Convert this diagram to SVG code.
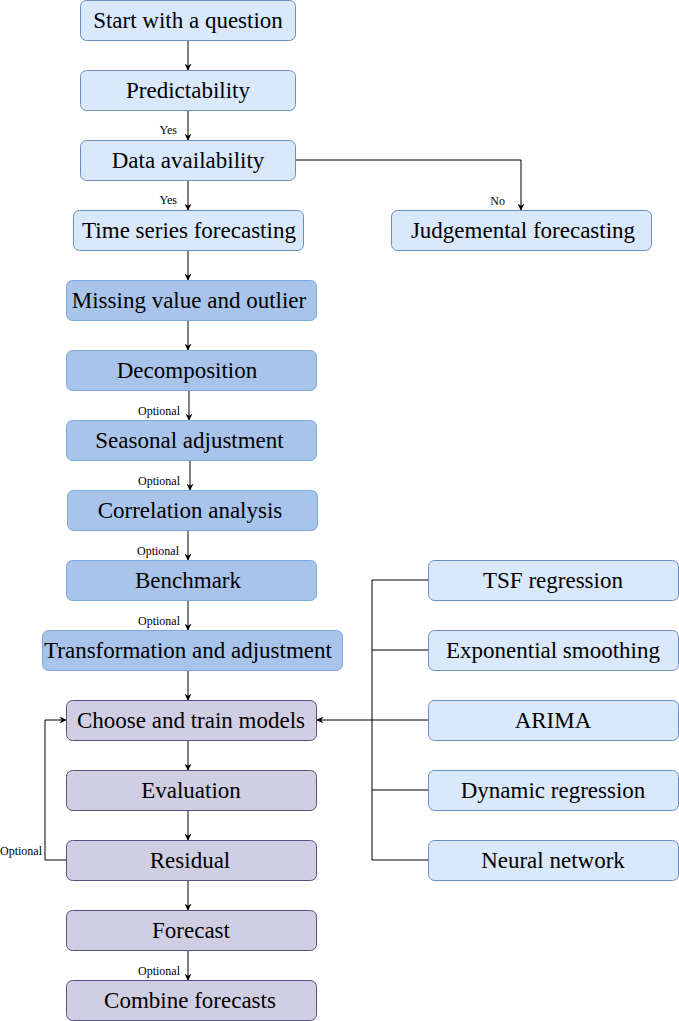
<svg xmlns="http://www.w3.org/2000/svg" width="679" height="1021" viewBox="0 0 679 1021">
<style>
.n rect{stroke-width:1}
.a rect{fill:#dae8fc;stroke:#6c8ebf}
.b rect{fill:#a9c4eb;stroke:#7ea6e0}
.c rect{fill:#d0cee2;stroke:#56517e}
.n text{font-size:23px;fill:#000;text-anchor:middle}
.e path{fill:none;stroke:#000;stroke-width:1}
.l{font-size:12px;fill:#000}
</style>
<defs>
<marker id="ar" viewBox="0 0 10 10" refX="9" refY="5" markerWidth="7" markerHeight="7" orient="auto" markerUnits="userSpaceOnUse">
<path d="M0,0 L10,5 L0,10 L3,5 Z" fill="#000"/>
</marker>
</defs>
<rect width="679" height="1021" fill="#fff"/>
<g font-family="'Liberation Serif', 'DejaVu Serif', serif">
<g class="e" id="connectors">
<path d="M188,40 V70" marker-end="url(#ar)"/>
<path d="M188,110 V140" marker-end="url(#ar)"/>
<path d="M188,180 V210" marker-end="url(#ar)"/>
<path d="M295,160 H521 V210" marker-end="url(#ar)"/>
<path d="M188,250 V280" marker-end="url(#ar)"/>
<path d="M188,320 V350" marker-end="url(#ar)"/>
<path d="M189,390 V420" marker-end="url(#ar)"/>
<path d="M190,460 V490" marker-end="url(#ar)"/>
<path d="M188,530 V560" marker-end="url(#ar)"/>
<path d="M188,600 V630" marker-end="url(#ar)"/>
<path d="M188,670 V700" marker-end="url(#ar)"/>
<path d="M188,740 V770" marker-end="url(#ar)"/>
<path d="M188,810 V840" marker-end="url(#ar)"/>
<path d="M188,880 V910" marker-end="url(#ar)"/>
<path d="M188,950 V980" marker-end="url(#ar)"/>
<path d="M66,860 H45 V720 H66" marker-end="url(#ar)"/>
<path d="M428,580 H372 V860 H428"/>
<path d="M428,650 H372"/>
<path d="M428,720 H372"/>
<path d="M428,790 H372"/>
<path d="M372,720 H317" marker-end="url(#ar)"/>
<text class="l" x="177" y="134" text-anchor="end">Yes</text>
<text class="l" x="177" y="204" text-anchor="end">Yes</text>
<text class="l" x="505" y="205" text-anchor="end">No</text>
<text class="l" x="180" y="415" text-anchor="end">Optional</text>
<text class="l" x="180" y="485" text-anchor="end">Optional</text>
<text class="l" x="179" y="555" text-anchor="end">Optional</text>
<text class="l" x="180" y="625" text-anchor="end">Optional</text>
<text class="l" x="180" y="975" text-anchor="end">Optional</text>
<text class="l" x="0" y="855">Optional</text>
</g>
<g id="n1" class="n a"><rect x="80.5" y="0.5" width="215" height="40" rx="6"/><text x="188" y="28">Start with a question</text></g>
<g id="n2" class="n a"><rect x="80.5" y="70.5" width="215" height="40" rx="6"/><text x="188" y="98">Predictability</text></g>
<g id="n3" class="n a"><rect x="80.5" y="140.5" width="215" height="40" rx="6"/><text x="188" y="168">Data availability</text></g>
<g id="n4" class="n a"><rect x="73.5" y="210.5" width="230" height="40" rx="6"/><text x="189" y="238">Time series forecasting</text></g>
<g id="n5" class="n a"><rect x="391.5" y="210.5" width="260" height="40" rx="6"/><text x="523" y="238">Judgemental forecasting</text></g>
<g id="n6" class="n b"><rect x="66.5" y="280.5" width="250" height="40" rx="6"/><text x="189" y="308">Missing value and outlier</text></g>
<g id="n7" class="n b"><rect x="66.5" y="350.5" width="250" height="40" rx="6"/><text x="187" y="378">Decomposition</text></g>
<g id="n8" class="n b"><rect x="66.5" y="420.5" width="250" height="40" rx="6"/><text x="189.5" y="448">Seasonal adjustment</text></g>
<g id="n9" class="n b"><rect x="67.5" y="490.5" width="250" height="40" rx="6"/><text x="190" y="518">Correlation analysis</text></g>
<g id="n10" class="n b"><rect x="66.5" y="560.5" width="250" height="40" rx="6"/><text x="188" y="588">Benchmark</text></g>
<g id="n11" class="n b"><rect x="42.5" y="630.5" width="300" height="40" rx="6"/><text x="188" y="658">Transformation and adjustment</text></g>
<g id="n12" class="n c"><rect x="66.5" y="700.5" width="250" height="40" rx="6"/><text x="191" y="728">Choose and train models</text></g>
<g id="n13" class="n c"><rect x="66.5" y="770.5" width="250" height="40" rx="6"/><text x="191" y="798">Evaluation</text></g>
<g id="n14" class="n c"><rect x="66.5" y="840.5" width="250" height="40" rx="6"/><text x="190" y="868">Residual</text></g>
<g id="n15" class="n c"><rect x="66.5" y="910.5" width="250" height="40" rx="6"/><text x="191" y="938">Forecast</text></g>
<g id="n16" class="n c"><rect x="66.5" y="980.5" width="250" height="40" rx="6"/><text x="190" y="1008">Combine forecasts</text></g>
<g id="n17" class="n a"><rect x="428.5" y="560.5" width="250" height="40" rx="6"/><text x="553" y="588">TSF regression</text></g>
<g id="n18" class="n a"><rect x="428.5" y="630.5" width="250" height="40" rx="6"/><text x="553" y="658">Exponential smoothing</text></g>
<g id="n19" class="n a"><rect x="428.5" y="700.5" width="250" height="40" rx="6"/><text x="553" y="728">ARIMA</text></g>
<g id="n20" class="n a"><rect x="428.5" y="770.5" width="250" height="40" rx="6"/><text x="553" y="798">Dynamic regression</text></g>
<g id="n21" class="n a"><rect x="428.5" y="840.5" width="250" height="40" rx="6"/><text x="553" y="868">Neural network</text></g>
</g>
</svg>
